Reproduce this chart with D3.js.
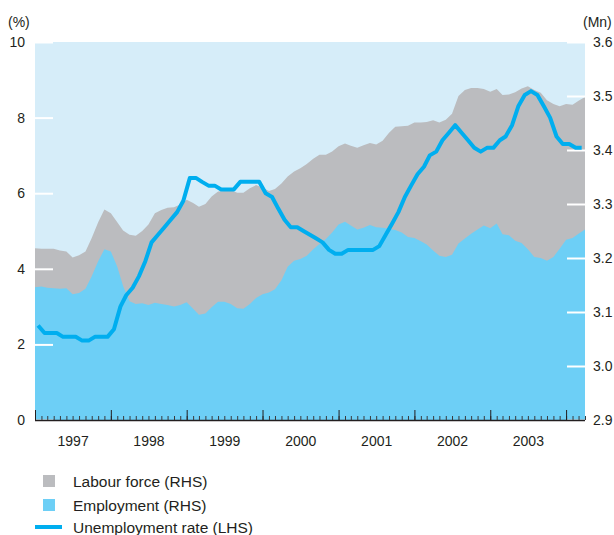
<!DOCTYPE html>
<html>
<head>
<meta charset="utf-8">
<script src="https://cdn.jsdelivr.net/npm/d3@7"></script>
<style>
  body { margin: 0; background: #fff; }
  text { font-family: "Liberation Sans", Arial, Helvetica, sans-serif; fill: #231f20; }
</style>
</head>
<body>
<svg id="chart"></svg>
<script>
'use strict';

// monthly, Jan 1997 .. Apr 2004 (Mn persons, RHS)
var labourForce = [
  3.218, 3.217, 3.217, 3.217, 3.214, 3.212, 3.201, 3.205, 3.212, 3.237, 3.266, 3.290,
  3.283, 3.266, 3.251, 3.243, 3.241, 3.250, 3.262, 3.283, 3.289, 3.293, 3.294, 3.299,
  3.308, 3.302, 3.295, 3.300, 3.314, 3.323, 3.324, 3.326, 3.321, 3.321, 3.329, 3.335,
  3.330, 3.324, 3.328, 3.338, 3.351, 3.360, 3.366, 3.374, 3.384, 3.391, 3.391, 3.397,
  3.407, 3.412, 3.408, 3.404, 3.409, 3.413, 3.410, 3.417, 3.432, 3.443, 3.444, 3.445,
  3.451, 3.451, 3.452, 3.455, 3.451, 3.456, 3.467, 3.500, 3.511, 3.515, 3.515, 3.513,
  3.508, 3.513, 3.502, 3.503, 3.507, 3.514, 3.518, 3.511, 3.506, 3.492, 3.485, 3.481,
  3.485, 3.484, 3.491, 3.498
]

var employment = [
  3.146, 3.147, 3.145, 3.144, 3.143, 3.144, 3.133, 3.135, 3.143, 3.166, 3.194, 3.216,
  3.212, 3.184, 3.148, 3.120, 3.115, 3.116, 3.113, 3.117, 3.115, 3.113, 3.110, 3.113,
  3.118, 3.106, 3.095, 3.097, 3.109, 3.119, 3.119, 3.115, 3.107, 3.106, 3.115, 3.126,
  3.133, 3.136, 3.142, 3.159, 3.184, 3.195, 3.198, 3.204, 3.216, 3.226, 3.235, 3.247,
  3.262, 3.267, 3.260, 3.253, 3.256, 3.261, 3.257, 3.256, 3.254, 3.252, 3.247, 3.239,
  3.237, 3.231, 3.225, 3.214, 3.204, 3.202, 3.206, 3.227, 3.236, 3.245, 3.253, 3.260,
  3.255, 3.264, 3.244, 3.242, 3.232, 3.228, 3.216, 3.202, 3.200, 3.195, 3.202, 3.217,
  3.234, 3.237, 3.245, 3.253
]

// monthly, Jan 1997 .. Mar 2004 (%, LHS)
var unemploymentRate = [
  2.5, 2.3, 2.3, 2.3, 2.2, 2.2, 2.2, 2.1, 2.1, 2.2, 2.2, 2.2,
  2.4, 3.0, 3.3, 3.5, 3.8, 4.2, 4.7, 4.9, 5.1, 5.3, 5.5, 5.8,
  6.4, 6.4, 6.3, 6.2, 6.2, 6.1, 6.1, 6.1, 6.3, 6.3, 6.3, 6.3,
  6.0, 5.9, 5.6, 5.3, 5.1, 5.1, 5.0, 4.9, 4.8, 4.7, 4.5, 4.4,
  4.4, 4.5, 4.5, 4.5, 4.5, 4.5, 4.6, 4.9, 5.2, 5.5, 5.9, 6.2,
  6.5, 6.7, 7.0, 7.1, 7.4, 7.6, 7.8, 7.6, 7.4, 7.2, 7.1, 7.2,
  7.2, 7.4, 7.5, 7.8, 8.3, 8.6, 8.7, 8.6, 8.3, 8.0, 7.5, 7.3,
  7.3, 7.2, 7.2
]

var leftTicks = [0, 2, 4, 6, 8, 10]
var rightTicks = [2.9, 3.0, 3.1, 3.2, 3.3, 3.4, 3.5, 3.6]
var yearLabels = [1997, 1998, 1999, 2000, 2001, 2002, 2003]

var legendItems = [
  { label: 'Labour force (RHS)', type: 'box', color: '#bbbcbf' },
  { label: 'Employment (RHS)', type: 'box', color: '#6dcff6' },
  { label: 'Unemployment rate (LHS)', type: 'line', color: '#00aeef' }
]

var width = 614,
  height = 535,
  margin = { left: 35, right: 29, top: 42, bottom: 115 },
  drawWidth = width - margin.left - margin.right,
  drawHeight = height - margin.top - margin.bottom

var start = new Date(1997, 0, 1)
var months = d3.timeMonth.range(start, d3.timeMonth.offset(start, labourForce.length))
var midMonths = months.slice(0, unemploymentRate.length).map(function(d) {
  return d3.timeDay.offset(d, 15)
})

var svg = d3.select('#chart')
  .attr('width', width)
  .attr('height', height)

var g = svg.append('g')
  .attr('transform', 'translate(' + margin.left + ',' + margin.top + ')')

var xScale = d3.scaleTime()
  .domain([start, months[months.length - 1]])
  .range([0, drawWidth])

var yLeft = d3.scaleLinear().domain([0, 10]).range([drawHeight, 0])
var yRight = d3.scaleLinear().domain([2.9, 3.6]).range([drawHeight, 0])

// background
g.append('rect')
  .attr('width', drawWidth)
  .attr('height', drawHeight)
  .attr('fill', '#d6edf9')

var area = function(values) {
  return d3.area()
    .x(function(d, i) { return xScale(months[i]) })
    .y0(drawHeight)
    .y1(function(d) { return yRight(d) })(values)
}

g.append('path')
  .attr('d', area(labourForce))
  .attr('fill', '#bbbcbf')

g.append('path')
  .attr('d', area(employment))
  .attr('fill', '#6dcff6')

// white tick marks inside the plot
var leftAxis = d3.axisLeft(yLeft)
  .tickValues(leftTicks)
  .tickSize(-18)
  .tickPadding(10)
  .tickFormat(d3.format('d'))

var leftG = g.append('g').call(leftAxis)
leftG.select('.domain').remove()
leftG.selectAll('line').attr('stroke', '#fff').attr('stroke-width', 2)
leftG.selectAll('text').attr('font-size', 14).attr('fill', '#231f20')
  .attr('font-family', '"Liberation Sans", Arial, sans-serif')

var rightAxis = d3.axisRight(yRight)
  .tickValues(rightTicks)
  .tickSize(-18)
  .tickPadding(8)
  .tickFormat(d3.format('.1f'))

var rightG = g.append('g')
  .attr('transform', 'translate(' + drawWidth + ',0)')
  .call(rightAxis)
rightG.select('.domain').remove()
rightG.selectAll('line').attr('stroke', '#fff').attr('stroke-width', 2)
rightG.selectAll('text').attr('font-size', 14).attr('fill', '#231f20')
  .attr('font-family', '"Liberation Sans", Arial, sans-serif')

// unemployment line
var line = d3.line()
  .x(function(d, i) { return xScale(midMonths[i]) })
  .y(function(d) { return yLeft(d) })

g.append('path')
  .attr('d', line(unemploymentRate))
  .attr('fill', 'none')
  .attr('stroke', '#00aeef')
  .attr('stroke-width', 4)
  .attr('stroke-linejoin', 'round')

// x axis: monthly minor ticks, yearly major ticks, labels mid-year
var minorAxis = d3.axisBottom(xScale)
  .ticks(d3.timeMonth.every(1))
  .tickSize(-4)
  .tickFormat('')
var majorAxis = d3.axisBottom(xScale)
  .ticks(d3.timeYear.every(1))
  .tickSize(-10)
  .tickFormat('')
var labelAxis = d3.axisBottom(xScale)
  .tickValues(yearLabels.map(function(y) { return new Date(y, 6, 1) }))
  .tickSize(0)
  .tickPadding(16)
  .tickFormat(d3.timeFormat('%Y'))

var xMinor = g.append('g').attr('transform', 'translate(0,' + drawHeight + ')').call(minorAxis)
var xMajor = g.append('g').attr('transform', 'translate(0,' + drawHeight + ')').call(majorAxis)
var xLabels = g.append('g').attr('transform', 'translate(0,' + drawHeight + ')').call(labelAxis)

xMinor.selectAll('line').attr('stroke', '#3a3a3c')
xMinor.select('.domain').attr('stroke', '#231f20').attr('stroke-width', 1.3)
  .attr('d', 'M0,0.5H' + drawWidth)
xMajor.select('.domain').remove()
xMajor.selectAll('line').attr('stroke', '#231f20')
xLabels.select('.domain').remove()
xLabels.selectAll('text').attr('font-size', 14).attr('fill', '#231f20')
  .attr('font-family', '"Liberation Sans", Arial, sans-serif')

// axis units
svg.append('text')
  .attr('x', 8)
  .attr('y', 27)
  .attr('font-size', 14)
  .text('(%)')

svg.append('text')
  .attr('x', 583)
  .attr('y', 27)
  .attr('font-size', 14)
  .text('(Mn)')

// legend
var legend = svg.append('g')
  .attr('transform', 'translate(35,481)')

var items = legend.selectAll('g')
  .data(legendItems)
  .enter().append('g')
  .attr('transform', function(d, i) { return 'translate(0,' + [0, 24, 46][i] + ')' })

items.filter(function(d) { return d.type === 'box' })
  .append('rect')
  .attr('x', 8)
  .attr('y', -6)
  .attr('width', 12)
  .attr('height', 12)
  .attr('fill', function(d) { return d.color })

items.filter(function(d) { return d.type === 'line' })
  .append('line')
  .attr('x1', 0)
  .attr('x2', 27)
  .attr('y1', 0)
  .attr('y2', 0)
  .attr('stroke', function(d) { return d.color })
  .attr('stroke-width', 4)

items.append('text')
  .attr('x', 38)
  .attr('dy', '0.36em')
  .attr('font-size', 15.5)
  .text(function(d) { return d.label })
</script>
</body>
</html>
